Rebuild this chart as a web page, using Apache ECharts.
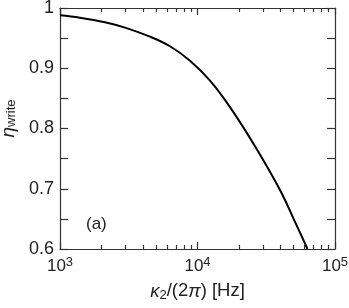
<!DOCTYPE html>
<html>
<head>
<meta charset="utf-8">
<script src="https://cdn.jsdelivr.net/npm/echarts@6/dist/echarts.min.js"></script>
<style>html,body{margin:0;padding:0;background:#fff;}#c{width:349px;height:308px;}</style>
</head>
<body>
<div id="c"></div>
<script>
// data
var kappaHz = [1000, 1398, 2125, 2970, 4512, 6310, 8820, 12330, 17240, 26200, 39810, 51180, 63100];
var etaWrite = [0.988, 0.984, 0.9765, 0.9675, 0.9525, 0.9365, 0.9125, 0.8795, 0.8355, 0.7705, 0.698, 0.645, 0.600];
var xMajorTicks = [1000, 10000, 100000];
var xTickExponents = ['3', '4', '5'];
var xMinorTicks = [2000, 3000, 4000, 5000, 6000, 7000, 8000, 9000, 20000, 30000, 40000, 50000, 60000, 70000, 80000, 90000];
var yTickLabels = ['0.6', '0.7', '0.8', '0.9', '1'];

var FONT = 'Liberation Sans, Arial, Helvetica, sans-serif';
var AX = '#333';
var TXT = '#222';
var minorLog = xMinorTicks.map(function (v) { return Math.log10(v); });

var chart = echarts.init(document.getElementById('c'), null, {renderer: 'canvas'});
function ls() { return {color: AX, width: 1.2}; }

function minorAxis(pos) {
  return {
    type: 'value', min: 3, max: 5, position: pos,
    axisLine: {show: false},
    axisTick: {show: true, inside: true, length: 4, lineStyle: ls(), customValues: minorLog},
    axisLabel: {show: false}, splitLine: {show: false}
  };
}

chart.setOption({
  animation: false,
  backgroundColor: '#fff',
  title: {
    text: '(a)', left: 81, top: 211,
    textStyle: {fontFamily: FONT, fontSize: 17, fontWeight: 'normal', color: TXT}
  },
  grid: {left: 60, right: 14, top: 8, bottom: 59, containLabel: false, outerBoundsMode: 'none'},
  xAxis: [
    {
      type: 'log', logBase: 10, min: xMajorTicks[0], max: xMajorTicks[2], position: 'bottom',
      axisLine: {show: true, lineStyle: ls()},
      axisTick: {show: true, inside: true, length: 7, lineStyle: ls()},
      splitLine: {show: false},
      axisLabel: {
        margin: 9,
        formatter: function (v) {
          var i = xMajorTicks.indexOf(Math.round(v));
          return i < 0 ? '' : '{b|10}{s|' + xTickExponents[i] + '}';
        },
        rich: {
          b: {fontFamily: FONT, fontSize: 17, color: TXT, lineHeight: 17, verticalAlign: 'bottom'},
          s: {fontFamily: FONT, fontSize: 13, color: TXT, lineHeight: 12, padding: [0, 0, 8, 0]}
        }
      },
      name: '{i|κ}{sub|2}{t|/(2}{i|π}{t|) [Hz]}',
      nameLocation: 'middle', nameGap: 27,
      nameTextStyle: {
        fontFamily: FONT, fontSize: 18, color: TXT,
        rich: {
          t: {fontFamily: FONT, fontSize: 18.5, color: TXT, verticalAlign: 'bottom', lineHeight: 18},
          i: {fontFamily: FONT, fontSize: 18.5, fontStyle: 'italic', color: TXT, verticalAlign: 'bottom', lineHeight: 18},
          sub: {fontFamily: FONT, fontSize: 13, color: TXT, padding: [7, 0, 0, 0], lineHeight: 13}
        }
      }
    },
    minorAxis('bottom'),
    {
      type: 'log', logBase: 10, min: xMajorTicks[0], max: xMajorTicks[2], position: 'top',
      axisLine: {show: true, lineStyle: ls()},
      axisTick: {show: true, inside: true, length: 7, lineStyle: ls()},
      axisLabel: {show: false}, splitLine: {show: false}
    },
    minorAxis('top')
  ],
  yAxis: [
    {
      type: 'value', min: 0.6, max: 1, interval: 0.05, position: 'left',
      axisLine: {show: true, lineStyle: ls()},
      axisTick: {show: true, inside: true, length: 8, lineStyle: ls()},
      splitLine: {show: false},
      axisLabel: {
        margin: 6, fontFamily: FONT, fontSize: 18, color: TXT,
        formatter: function (v) {
          var k = Math.round(v * 100);
          if (k % 10 !== 0) return '';
          return yTickLabels[(k - 60) / 10] || '';
        }
      },
      name: '{i|η}{sub|write}',
      nameLocation: 'middle', nameGap: 34,
      nameTextStyle: {
        fontFamily: FONT, fontSize: 17, color: TXT, padding: [0, 0, 0, 20],
        rich: {
          i: {fontFamily: FONT, fontSize: 19, fontStyle: 'italic', color: TXT, verticalAlign: 'bottom', lineHeight: 18},
          sub: {fontFamily: FONT, fontSize: 13, color: TXT, padding: [5, 0, 0, 0], lineHeight: 13}
        }
      }
    },
    {
      type: 'value', min: 0.6, max: 1, interval: 0.05, position: 'right',
      axisLine: {show: true, lineStyle: ls()},
      axisTick: {show: true, inside: true, length: 8, lineStyle: ls()},
      splitLine: {show: false},
      axisLabel: {show: false}
    }
  ],
  series: [{
    type: 'line',
    xAxisIndex: 0, yAxisIndex: 0,
    data: kappaHz.map(function (k, i) { return [k, etaWrite[i]]; }),
    smooth: 0.4,
    showSymbol: false,
    lineStyle: {color: '#000', width: 2},
    clip: true
  }]
});
</script>
</body>
</html>
